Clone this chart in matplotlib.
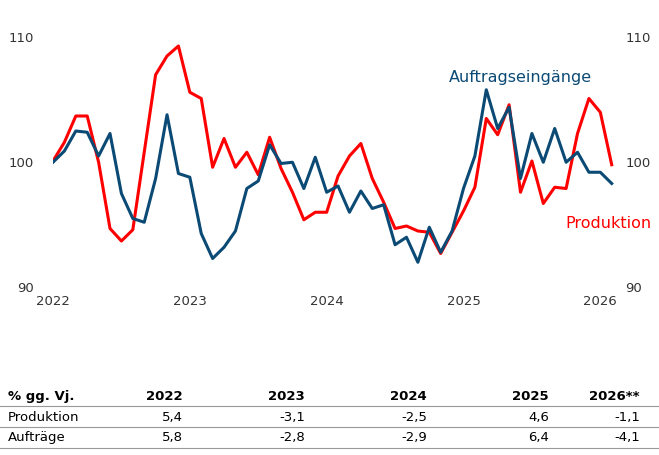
import matplotlib
matplotlib.use("Agg")
from matplotlib import pyplot as plt
from matplotlib.lines import Line2D

produktion = [100.0, 101.5, 103.6, 103.6, 99.9, 94.6, 93.6, 94.5, 100.7, 106.9, 108.4, 109.2,
              105.5, 105.0, 99.5, 101.8, 99.5, 100.7, 98.9, 101.9, 99.4, 97.5, 95.3, 95.9,
              95.9, 98.8, 100.4, 101.4, 98.6, 96.7, 94.6, 94.8, 94.4, 94.3, 92.6, 94.3,
              96.0, 97.9, 103.4, 102.1, 104.5, 97.5, 100.0, 96.6, 97.9, 97.8, 102.2, 105.0,
              103.9, 99.7]
auftraege = [99.9, 100.8, 102.4, 102.3, 100.4, 102.2, 97.4, 95.4, 95.1, 98.6, 103.7, 99.0,
             98.7, 94.2, 92.2, 93.1, 94.4, 97.8, 98.4, 101.3, 99.8, 99.9, 97.8, 100.3,
             97.5, 98.0, 95.9, 97.6, 96.2, 96.5, 93.3, 93.9, 91.9, 94.7, 92.7, 94.4,
             97.8, 100.4, 105.7, 102.6, 104.3, 98.6, 102.2, 99.9, 102.6, 99.9, 100.7, 99.1,
             99.1, 98.2]
years = ["2022", "2023", "2024", "2025", "2026"]
table_header = ["% gg. Vj.", "2022", "2023", "2024", "2025", "2026**"]
table_rows = [["Produktion", "5,4", "-3,1", "-2,5", "4,6", "-1,1"],
              ["Aufträge", "5,8", "-2,8", "-2,9", "6,4", "-4,1"]]

RED = "#ff0000"
BLUE = "#0b4a75"

fig = plt.figure(figsize=(6.59, 4.56), dpi=100)
ax = fig.add_axes([53 / 659, 1 - 287 / 456, (614 - 53) / 659, 250 / 456])
x = list(range(len(produktion)))
ax.plot(x, produktion, color=RED, lw=2.2)
ax.plot(x, auftraege, color=BLUE, lw=2.2)
ax.set_xlim(0, 49.2)
ax.set_ylim(90, 110)
for s in ax.spines.values():
    s.set_visible(False)
ax.tick_params(length=0, labelsize=9.5, colors="#333333")
ax.set_yticks([90, 100, 110])
ax.set_yticklabels(["90", "100", "110"])
ax.tick_params(axis="y", pad=14)
ax2 = ax.twinx()
ax2.set_ylim(90, 110)
ax2.set_yticks([90, 100, 110])
for s in ax2.spines.values():
    s.set_visible(False)
ax2.tick_params(length=0, labelsize=9.5, colors="#333333", pad=8)
ax.set_xticks([0, 12, 24, 36, 48])
ax.set_xticklabels(years)
ax.tick_params(axis="x", pad=6)

ax.text(41, 106.4, "Auftragseingänge", color=BLUE, fontsize=11.5, ha="center")
ax.text(48.7, 94.7, "Produktion", color=RED, fontsize=11.5, ha="center")

# table
col_x = [8, 183, 305, 427, 549, 640]
row_y = [397, 418, 438]
for i, t in enumerate(table_header):
    fig.text(col_x[i] / 659, 1 - row_y[0] / 456, t, fontsize=9.5, weight="bold",
             ha="left" if i == 0 else "right", va="center")
for r, row in enumerate(table_rows):
    for i, t in enumerate(row):
        fig.text(col_x[i] / 659, 1 - row_y[r + 1] / 456, t, fontsize=9.5,
                 ha="left" if i == 0 else "right", va="center")
for yl in [407, 428, 449]:
    fig.add_artist(Line2D([0, 1], [1 - yl / 456] * 2, color="#999999", lw=0.8))

fig.savefig("out.png", dpi=100)
